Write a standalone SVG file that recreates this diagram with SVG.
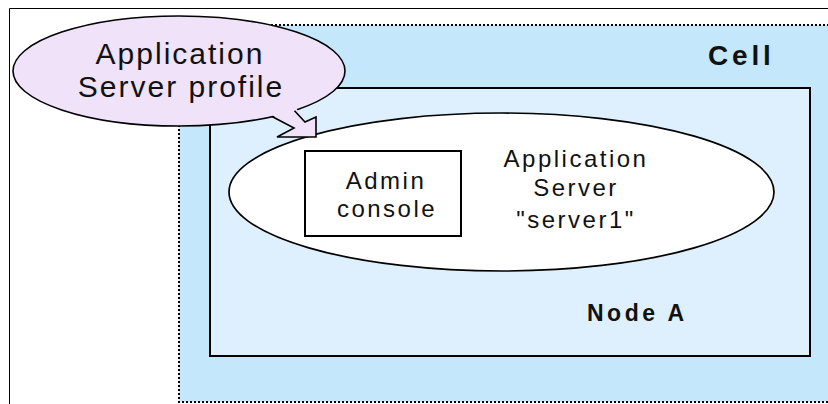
<svg xmlns="http://www.w3.org/2000/svg" width="828" height="404" viewBox="0 0 828 404">
<style>
  .t { font-family: "Liberation Sans", Arial, sans-serif; fill: #111; }
  .reg { font-size: 24px; letter-spacing: 2.5px; text-anchor: middle; }
  .big { font-size: 30px; letter-spacing: 2px; text-anchor: middle; }
  .bold { font-weight: bold; }
  .solid { stroke: #000; stroke-width: 2; }
</style>
<rect x="0" y="0" width="828" height="404" fill="#fff"/>
<g id="frame">
  <path d="M9.5 404 V8.5 H828" fill="none" stroke="#000" stroke-width="1"/>
</g>
<g id="cell">
  <rect x="179" y="25" width="660" height="377" fill="#c4e7fc" stroke="#000" stroke-width="2" stroke-dasharray="2 2"/>
  <text class="t bold" x="708" y="64.5" font-size="28" letter-spacing="3.8">Cell</text>
</g>
<g id="nodeA">
  <rect x="210" y="88" width="600" height="268" fill="#def0fd" class="solid"/>
  <text class="t bold" x="587" y="320.5" font-size="23" letter-spacing="3.5">Node A</text>
</g>
<g id="appserver">
  <ellipse cx="501.5" cy="192" rx="272.5" ry="79" fill="#fff" stroke="#000" stroke-width="1.7"/>
  <text class="t reg" x="576" y="167">Application</text>
  <text class="t reg" x="576" y="195.5">Server</text>
  <text class="t reg" x="576" y="228">"server1"</text>
</g>
<g id="adminconsole">
  <rect x="305" y="151" width="156" height="85" fill="#fff" class="solid"/>
  <text class="t reg" x="386" y="189">Admin</text>
  <text class="t reg" x="387" y="217">console</text>
</g>
<g id="connectors"></g>
<g id="profile-callout">
  <ellipse cx="179" cy="71" rx="166" ry="55" fill="#efe2f9" stroke="#000" stroke-width="1.6"/>
  <polygon points="270,114 294,128 277,137 316,137 316,117 305,122 296,108" fill="#efe2f9"/>
  <polyline points="272,116.5 294,128 277,137 316,137 316,117 305,122 294.5,110.8" fill="none" stroke="#000" stroke-width="1.6" stroke-linejoin="miter"/>
  <text class="t big" x="180" y="63.5">Application</text>
  <text class="t big" x="181" y="97">Server profile</text>
</g>
</svg>
